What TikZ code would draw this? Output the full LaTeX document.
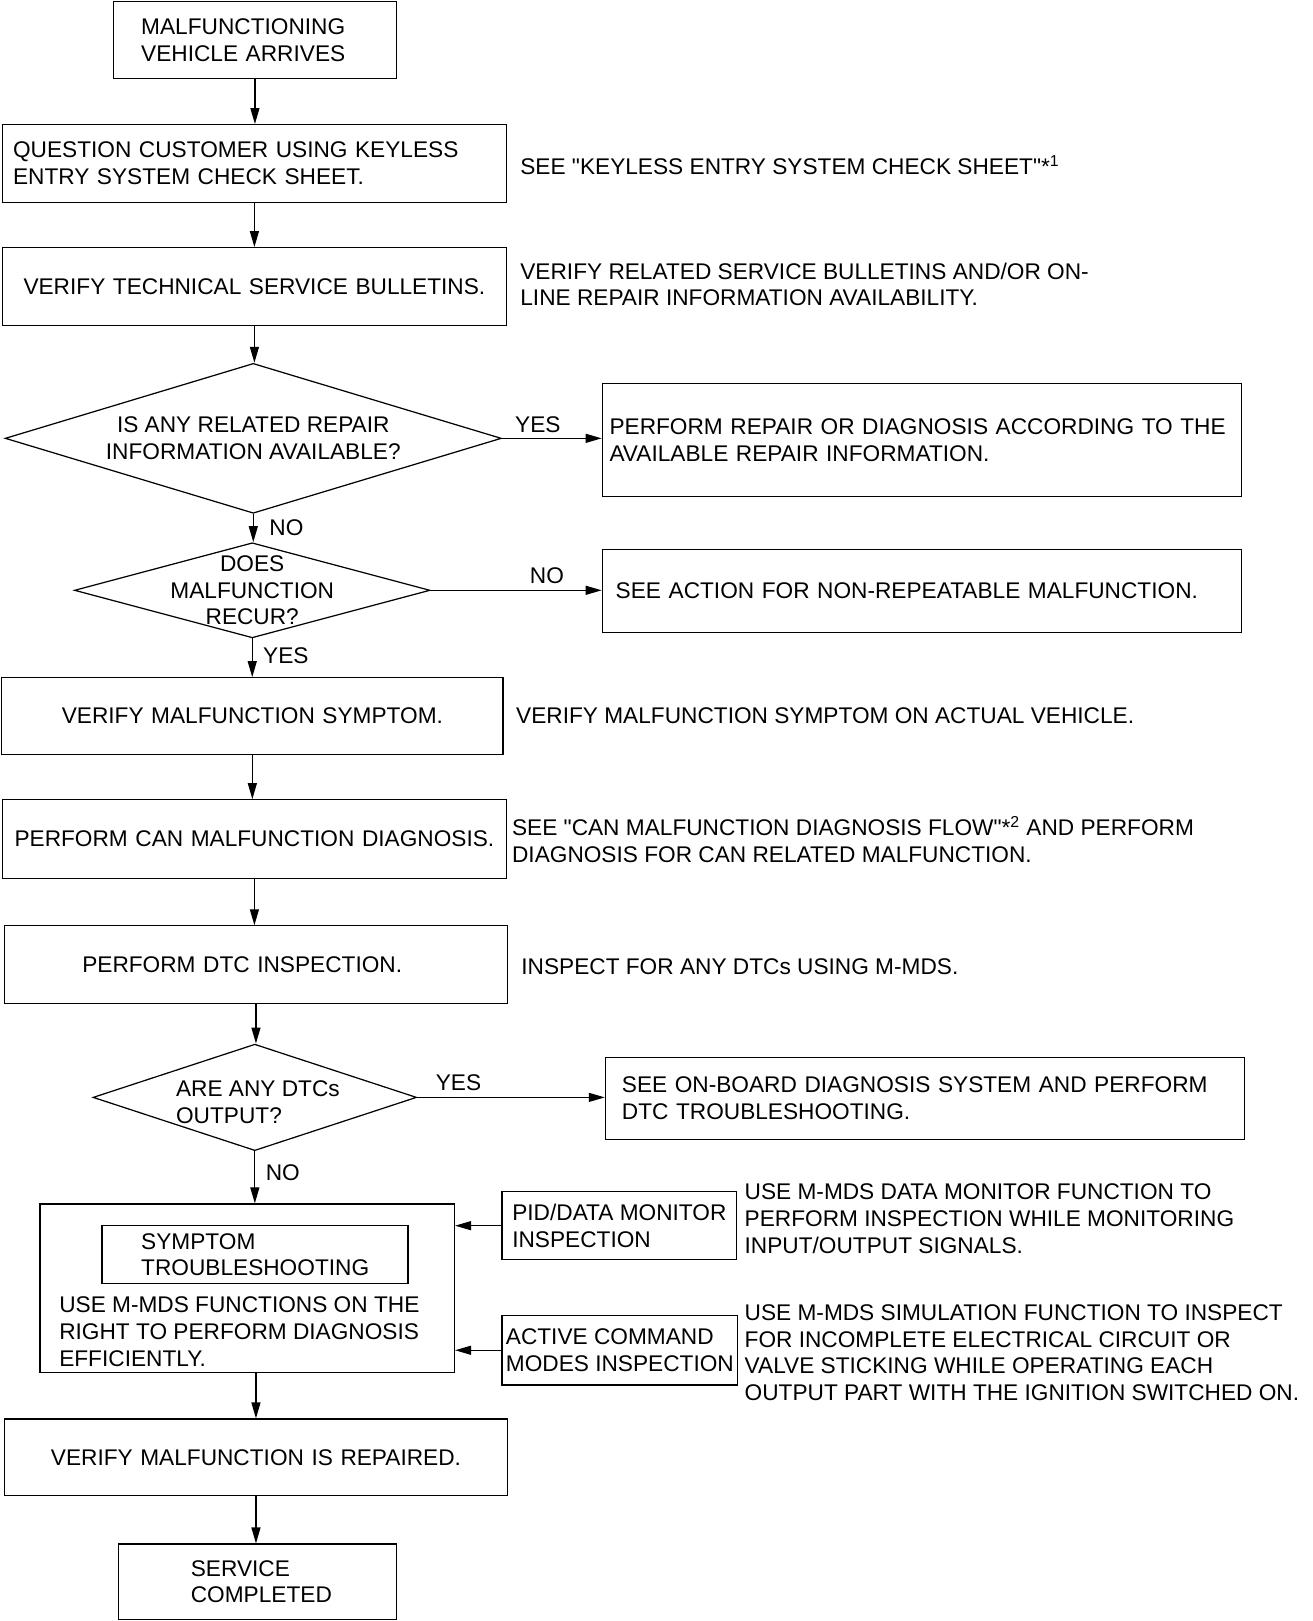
\documentclass[tikz,border=0pt]{standalone}
\usepackage{fontspec}
\setmainfont{Liberation Sans}[Ligatures=TeXOff]
\usetikzlibrary{arrows.meta,positioning,shapes.geometric}
\newlength{\pxu}
\setlength{\pxu}{0.2068mm}
\tikzset{
    block/.style={
    rectangle,draw=black,line width=0.7pt,anchor=north west,align=left
    },
    cblock/.style={
    block,align=center
    },
    decision/.style={
    diamond,draw=black,line width=0.7pt,inner sep=0pt
    },
    note/.style={anchor=west,align=left,inner sep=0pt},
    answer/.style={inner sep=0pt},
  line/.style={line width=0.7pt, -{Triangle[length=3.2mm,width=1.8mm]}},
}

\begin{document}
\begin{tikzpicture}[x=0.2068mm, y=-0.2068mm, font=\fontsize{12.9}{15.2}\selectfont]
   \useasboundingbox (0,0) rectangle (1270,1568);

   % main column
   \node[block, text width=220\pxu, inner xsep=27\pxu, minimum height=74\pxu] (arrive) at (109,1) {MALFUNCTIONING\\VEHICLE ARRIVES};
   \node[block, text width=467\pxu, inner xsep=10\pxu, minimum height=75\pxu] (quest) at (2,120) {QUESTION CUSTOMER USING KEYLESS\\ENTRY SYSTEM CHECK SHEET.};
   \node[cblock, text width=477\pxu, inner xsep=5\pxu, minimum height=75\pxu] (tsb) at (2,239) {VERIFY TECHNICAL SERVICE BULLETINS.};
   \node[decision, minimum width=480\pxu, minimum height=145\pxu] (inforeq) at (245,424) {};
   \node[answer, align=center] (inforeqtxt) at (inforeq.center) {IS ANY RELATED REPAIR\\INFORMATION AVAILABLE?};
   \node[decision, minimum width=344\pxu, minimum height=92\pxu] (recur) at (244,571) {};
   \node[answer, align=center] (recurtxt) at (recur.center) {DOES\\MALFUNCTION\\RECUR?};
   \node[cblock, text width=475\pxu, inner xsep=5\pxu, minimum height=74\pxu] (symptom) at (1,655) {VERIFY MALFUNCTION SYMPTOM.};
   \node[cblock, text width=477\pxu, inner xsep=5\pxu, minimum height=76\pxu] (candiag) at (2,773) {PERFORM CAN MALFUNCTION DIAGNOSIS.};
   \node[block, text width=336\pxu, inner xsep=75\pxu, minimum height=75\pxu] (dtcinsp) at (4,895) {PERFORM DTC INSPECTION.};
   \node[decision, minimum width=313\pxu, minimum height=103\pxu] (dtcout) at (246.5,1061.5) {};
   \node[answer, anchor=west, align=left] (dtcouttxt) at (170,1066) {ARE ANY DTCs\\OUTPUT?};
   \node[block, minimum width=401\pxu, minimum height=163\pxu] (symtrbl) at (38,1164) {};
   \node[block, text width=220\pxu, inner xsep=38\pxu, minimum height=56\pxu] (symtrblhead) at (98,1185) {SYMPTOM\\TROUBLESHOOTING};
   \node[note] (symtrbltxt) at (57,1288) {USE M-MDS FUNCTIONS ON THE\\RIGHT TO PERFORM DIAGNOSIS\\EFFICIENTLY.};
   \node[cblock, text width=476\pxu, inner xsep=5\pxu, minimum height=74\pxu] (repaired) at (4,1372) {VERIFY MALFUNCTION IS REPAIRED.};
   \node[block, text width=129\pxu, inner xsep=70\pxu, minimum height=73\pxu] (done) at (114,1493) {SERVICE\\COMPLETED};

   % right column
   \node[block, text width=604\pxu, inner xsep=7\pxu, minimum height=110\pxu] (repair) at (582,370) {PERFORM REPAIR OR DIAGNOSIS ACCORDING TO THE\\AVAILABLE REPAIR INFORMATION.};
   \node[block, text width=592\pxu, inner xsep=13\pxu, minimum height=80\pxu] (nonrep) at (582,531) {SEE ACTION FOR NON-REPEATABLE MALFUNCTION.};
   \node[block, text width=586\pxu, inner xsep=16\pxu, minimum height=80\pxu] (obd) at (585,1022) {SEE ON-BOARD DIAGNOSIS SYSTEM AND PERFORM\\DTC TROUBLESHOOTING.};
   \node[block, minimum width=227\pxu, inner xsep=4\pxu, minimum height=66\pxu] (pid) at (485,1152) {PID/DATA MONITOR\\INSPECTION};
   \node[block, minimum width=228\pxu, inner xsep=3\pxu, minimum height=67\pxu] (active) at (485,1272) {ACTIVE COMMAND\\MODES INSPECTION};

   % notes
   \node[note] (checknote)  at (503,160)    {SEE "KEYLESS ENTRY SYSTEM CHECK SHEET"*\textsuperscript{1}};
   \node[note] (tsbnote)    at (503,275)    {VERIFY RELATED SERVICE BULLETINS AND/OR ON-\\LINE REPAIR INFORMATION AVAILABILITY.};
   \node[note] (symnote)    at (499,692)    {VERIFY MALFUNCTION SYMPTOM ON ACTUAL VEHICLE.};
   \node[note] (cannote)    at (495,812)    {SEE "CAN MALFUNCTION DIAGNOSIS FLOW"*\textsuperscript{2} AND PERFORM\\DIAGNOSIS FOR CAN RELATED MALFUNCTION.};
   \node[note] (dtcnote)    at (504,935)    {INSPECT FOR ANY DTCs USING M-MDS.};
   \node[note] (pidnote)    at (720,1179)   {USE M-MDS DATA MONITOR FUNCTION TO\\PERFORM INSPECTION WHILE MONITORING\\INPUT/OUTPUT SIGNALS.};
   \node[note] (activenote) at (720,1308.5) {USE M-MDS SIMULATION FUNCTION TO INSPECT\\FOR INCOMPLETE ELECTRICAL CIRCUIT OR\\VALVE STICKING WHILE OPERATING EACH\\OUTPUT PART WITH THE IGNITION SWITCHED ON.};

  \path[line]
    (arrive.south)   edge (arrive.south |- quest.north)
    (quest.south)    edge (quest.south |- tsb.north)
    (tsb.south)      edge (tsb.south |- inforeq.north)
    (inforeq.south)  edge node[answer, right, xshift=15\pxu] (noinfo) {NO} (inforeq.south |- recur.north)
    (inforeq.east)   edge node[answer, above, pos=0.36, yshift=5\pxu] (yesinfo) {YES} (inforeq.east -| repair.west)
    (recur.east)     edge node[answer, above, pos=0.68, yshift=6\pxu] (norecur) {NO} (recur.east -| nonrep.west)
    (recur.south)    edge node[answer, right, xshift=10\pxu, yshift=2\pxu] (yesrecur) {YES} (recur.south |- symptom.north)
    (symptom.south)  edge (symptom.south |- candiag.north)
    (candiag.south)  edge (candiag.south |- dtcinsp.north)
    (dtcinsp.south)  edge (dtcinsp.south |- dtcout.north)
    (dtcout.east)    edge node[answer, above, pos=0.22, yshift=6\pxu] (yesdtc) {YES} (dtcout.east -| obd.west)
    (dtcout.south)   edge node[answer, right, xshift=10\pxu, yshift=4\pxu] (nodtc) {NO} (dtcout.south |- symtrbl.north)
    (pid.west)       edge (pid.west -| symtrbl.east)
    (active.west)    edge (active.west -| symtrbl.east)
    (repaired.north |- symtrbl.south) edge (repaired.north)
    (repaired.south) edge (repaired.south |- done.north);
  \end{tikzpicture}
\end{document}
